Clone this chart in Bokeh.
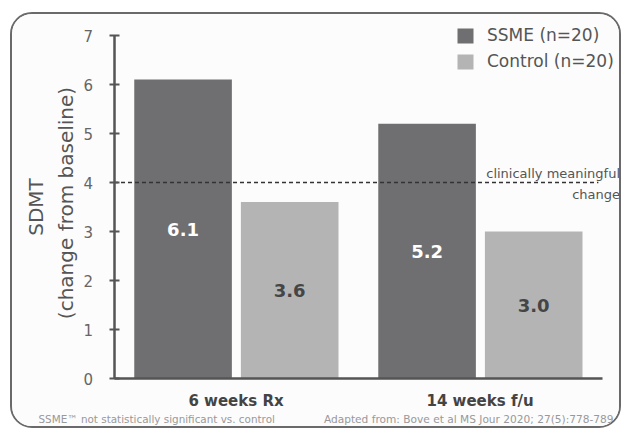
from bokeh.plotting import figure
from bokeh.models import (ColumnDataSource, Range1d, Label, LabelSet, Legend, LegendItem,
                          FixedTicker, LinearAxis)
from bokeh.transform import dodge
from bokeh.core.properties import value
from bokeh.embed import file_html
from bokeh.resources import INLINE

# ---- data ----
categories = ["6 weeks Rx", "14 weeks f/u"]
ssme = [6.1, 5.2]
control = [3.6, 3.0]
series_names = ["SSME (n=20)", "Control (n=20)"]
y_ticks = [0, 1, 2, 3, 4, 5, 6, 7]
threshold = 4
threshold_text = ["clinically meaningful", "change"]
y_label = ["SDMT", "(change from baseline)"]
footnote_left = "SSME\u2122 not statistically significant vs. control"
footnote_right = "Adapted from: Bove et al MS Jour 2020; 27(5):778-789"

FONT = "DejaVu Sans"
DARK = "#6f6f71"
LIGHT = "#b4b4b4"
AXIS = "#555555"

x_pos = list(range(len(categories)))
x_lo, x_hi = x_pos[0] - 0.5, x_pos[-1] + 0.5
y_lo, y_hi = y_ticks[0], y_ticks[-1]

src = ColumnDataSource(dict(
    x=x_pos,
    ssme=ssme,
    control=control,
    ssme_mid=[v / 2 for v in ssme],
    control_mid=[v / 2 for v in control],
    ssme_txt=[f"{v:.1f}" for v in ssme],
    control_txt=[f"{v:.1f}" for v in control],
))

W, H = 611, 416
p = figure(width=W, height=H,
           x_range=Range1d(-0.916, 1.588), y_range=Range1d(-1.061, 7.429),
           output_backend="svg", toolbar_location=None,
           x_axis_type=None, y_axis_type=None,
           min_border_left=0, min_border_right=0, min_border_top=0, min_border_bottom=0,
           background_fill_color="#fcfcfc", border_fill_color="#fcfcfc",
           styles={"border": "2px solid #6a6a6a", "border-radius": "22px", "overflow": "hidden",
                   "margin-left": "10px", "margin-top": "12px"})
p.outline_line_color = None
p.grid.visible = False

r1 = p.vbar(x=dodge("x", -0.217), top="ssme", width=0.4, source=src,
            fill_color=DARK, line_color=None)
r2 = p.vbar(x=dodge("x", 0.22), top="control", width=0.4, source=src,
            fill_color=LIGHT, line_color=None)

p.add_layout(LabelSet(x=dodge("x", -0.217), y="ssme_mid", text="ssme_txt",
                      source=src, text_align="center", text_baseline="middle",
                      text_color="white", text_font=value(FONT), text_font_style="bold",
                      text_font_size="18px"))
p.add_layout(LabelSet(x=dodge("x", 0.22), y="control_mid", text="control_txt",
                      source=src, text_align="center", text_baseline="middle",
                      text_color="#454545", text_font=value(FONT), text_font_style="bold",
                      text_font_size="18px"))

# threshold line and its text
p.segment(x0=[x_lo], x1=[x_hi - 0.015], y0=[threshold], y1=[threshold],
          line_color="#333333", line_dash="4 3", line_width=1.5)
p.text(x=[x_hi, x_hi], y=[threshold, threshold], text=threshold_text,
       x_offset=[18, 18], y_offset=[-9, 12],
       text_align="right", text_baseline="middle", text_font=value(FONT),
       text_font_size="13px", text_color="#555555")

# y axis (drawn at the left edge of the category band)
ya = LinearAxis(fixed_location=x_lo, bounds=(y_lo, y_hi), ticker=FixedTicker(ticks=y_ticks))
ya.major_tick_in = 5
ya.major_tick_out = 5
ya.minor_tick_line_color = None
ya.major_tick_line_color = AXIS
ya.major_tick_line_width = 2
ya.axis_line_color = AXIS
ya.axis_line_width = 2.5
ya.major_label_standoff = 16
ya.major_label_text_font = FONT
ya.major_label_text_font_size = "15px"
ya.major_label_text_color = "#666666"
p.add_layout(ya, "left")

# x axis (drawn at y = 0)
xa = LinearAxis(fixed_location=y_lo, bounds=(x_lo, x_hi), ticker=FixedTicker(ticks=x_pos),
                major_label_overrides={i: c for i, c in zip(x_pos, categories)})
xa.major_tick_line_color = None
xa.minor_tick_line_color = None
xa.axis_line_color = AXIS
xa.axis_line_width = 2.5
xa.major_label_standoff = 7
xa.major_label_text_font = FONT
xa.major_label_text_font_style = "bold"
xa.major_label_text_font_size = "15px"
xa.major_label_text_color = "#444444"
p.add_layout(xa, "below")

# y axis title (two rotated lines)
y_mid = (y_lo + y_hi) / 2
p.add_layout(Label(x=x_lo, y=y_mid, x_offset=-78.5, y_offset=0, text=y_label[0],
                   angle=90, angle_units="deg", text_align="center", text_baseline="middle",
                   text_font=FONT, text_font_size="20px", text_color="#555555"))
p.add_layout(Label(x=x_lo, y=y_mid, x_offset=-48.5, y_offset=4, text=y_label[1],
                   angle=90, angle_units="deg", text_align="center", text_baseline="middle",
                   text_font=FONT, text_font_size="20px", text_color="#555555"))

# footnotes
p.text(x=[x_lo], y=[y_lo], text=[footnote_left], x_offset=-75.5, y_offset=40,
       text_align="left", text_baseline="middle", text_font=value(FONT),
       text_font_size="10.4px", text_color="#999999")
p.text(x=[x_hi], y=[y_lo], text=[footnote_right], x_offset=11.5, y_offset=40,
       text_align="right", text_baseline="middle", text_font=value(FONT),
       text_font_size="10.6px", text_color="#999999")

legend = Legend(items=[LegendItem(label=series_names[0], renderers=[r1]),
                       LegendItem(label=series_names[1], renderers=[r2])],
                location=(443, 359), orientation="vertical",
                glyph_width=20, glyph_height=19, label_height=19, spacing=6,
                label_standoff=12, padding=0, margin=0,
                border_line_color=None, background_fill_alpha=0,
                label_text_font=FONT, label_text_font_size="17px", label_text_color="#555555")
p.add_layout(legend)

open("out.html", "w").write(file_html(p, INLINE))
